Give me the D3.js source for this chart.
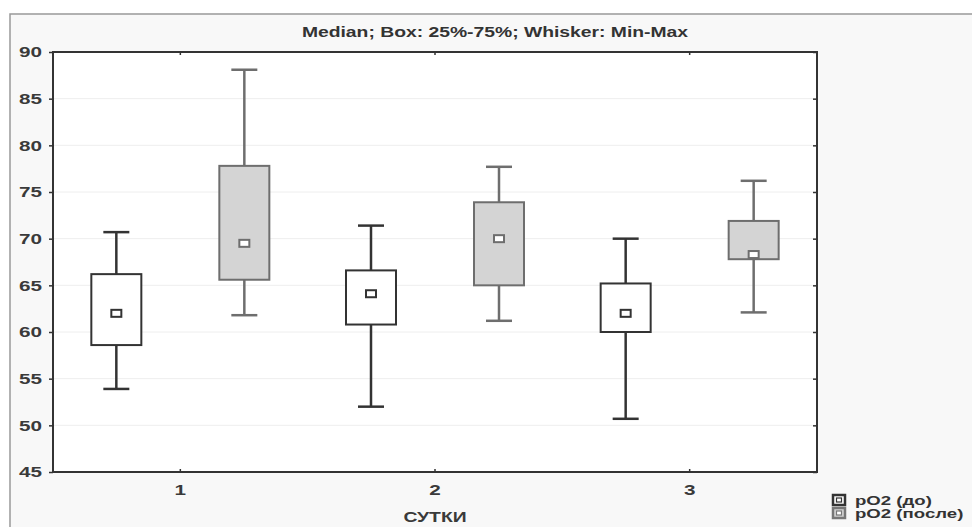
<!DOCTYPE html>
<html>
<head>
<meta charset="utf-8">
<script src="https://cdn.jsdelivr.net/npm/d3@7"></script>
<style>
  body { margin: 0; background: #fff; }
  text { font-family: "Liberation Sans", Arial, sans-serif; }
</style>
</head>
<body>
<div id="chart"></div>
<script>
const days = ['1', '2', '3']
const seriesNames = ['pO2 (до)', 'pO2 (после)']
// [min, q1, median, q3, max] per day
const before = [
  [53.9, 58.6, 62.0, 66.2, 70.7],
  [52.0, 60.8, 64.1, 66.6, 71.4],
  [50.7, 60.0, 62.0, 65.2, 70.0]
]
const after = [
  [61.8, 65.6, 69.5, 77.8, 88.1],
  [61.2, 65.0, 70.0, 73.9, 77.7],
  [62.1, 67.8, 68.3, 71.9, 76.2]
]
const yTicks = [45, 50, 55, 60, 65, 70, 75, 80, 85, 90]

const W = 972, H = 527
const plot = { left: 53, top: 52, right: 817, bottom: 472 }
const stretch = 1.38 // the picture's text is wider than it is tall

let svg = d3.select('#chart').append('svg')
  .attr('width', W).attr('height', H)

// outer frame
svg.append('rect')
  .attr('x', 10).attr('y', 14).attr('width', W + 10).attr('height', H)
  .attr('fill', '#f8f8f8').attr('stroke', '#999').attr('stroke-width', 1.5)

svg.append('rect')
  .attr('x', plot.left).attr('y', plot.top)
  .attr('width', plot.right - plot.left).attr('height', plot.bottom - plot.top)
  .attr('fill', '#fff')

let x = d3.scaleBand().domain(days).range([plot.left, plot.right])
let y = d3.scaleLinear().domain([45, 90]).range([plot.bottom, plot.top])

// grid
svg.append('g').selectAll('line').data(yTicks.slice(1, -1)).join('line')
  .attr('x1', plot.left).attr('x2', plot.right)
  .attr('y1', d => y(d)).attr('y2', d => y(d))
  .attr('stroke', '#eeeeee').attr('stroke-width', 1)

// axes
let leftAxis = svg.append('g')
  .attr('transform', `translate(${plot.left},0)`)
  .call(d3.axisLeft(y).tickValues(yTicks).tickSize(4).tickPadding(4))
leftAxis.select('.domain').remove()
leftAxis.selectAll('line').attr('stroke', '#333').attr('stroke-width', 1.5)
leftAxis.selectAll('text')
  .attr('font-size', 15).attr('font-weight', 'bold').attr('fill', '#3a3a3a')
  .attr('transform', `scale(${stretch},1)`)

let rightAxis = svg.append('g')
  .attr('transform', `translate(${plot.right},0)`)
  .call(d3.axisLeft(y).tickValues(yTicks).tickSize(4).tickFormat(''))
rightAxis.select('.domain').remove()
rightAxis.selectAll('line').attr('stroke', '#333').attr('stroke-width', 1.5)

let bottomAxis = svg.append('g')
  .attr('transform', `translate(0,${plot.bottom})`)
  .call(d3.axisTop(x).tickSize(3).tickPadding(-26))
bottomAxis.select('.domain').remove()
bottomAxis.selectAll('line').attr('stroke', '#333').attr('stroke-width', 1.5)
bottomAxis.selectAll('text')
  .attr('font-size', 15).attr('font-weight', 'bold').attr('fill', '#3a3a3a')
  .attr('transform', `scale(${stretch},1)`)

let topAxis = svg.append('g')
  .attr('transform', `translate(0,${plot.top})`)
  .call(d3.axisBottom(x).tickSize(3).tickFormat(''))
topAxis.select('.domain').remove()
topAxis.selectAll('line').attr('stroke', '#333').attr('stroke-width', 1.5)

// plot border
svg.append('rect')
  .attr('x', plot.left).attr('y', plot.top)
  .attr('width', plot.right - plot.left).attr('height', plot.bottom - plot.top)
  .attr('fill', 'none').attr('stroke', '#333').attr('stroke-width', 2)

// boxes
const offset = 64, boxW = 50, capW = 26
const styles = [
  { data: before, dx: -offset, fill: '#fff', stroke: '#333' },
  { data: after, dx: offset, fill: '#d4d4d4', stroke: '#6e6e6e' }
]

styles.forEach(s => {
  let g = svg.append('g').selectAll('g').data(s.data).join('g')
    .attr('transform', (d, i) => `translate(${x.bandwidth() / 2 + x(days[i]) + s.dx},0)`)

  g.append('line')
    .attr('x1', 0).attr('x2', 0)
    .attr('y1', d => y(d[0])).attr('y2', d => y(d[4]))
    .attr('stroke', s.stroke).attr('stroke-width', 2.5)
  g.append('line')
    .attr('x1', -capW / 2).attr('x2', capW / 2)
    .attr('y1', d => y(d[0])).attr('y2', d => y(d[0]))
    .attr('stroke', s.stroke).attr('stroke-width', 2.5)
  g.append('line')
    .attr('x1', -capW / 2).attr('x2', capW / 2)
    .attr('y1', d => y(d[4])).attr('y2', d => y(d[4]))
    .attr('stroke', s.stroke).attr('stroke-width', 2.5)
  g.append('rect')
    .attr('x', -boxW / 2).attr('width', boxW)
    .attr('y', d => y(d[3])).attr('height', d => y(d[1]) - y(d[3]))
    .attr('fill', s.fill).attr('stroke', s.stroke).attr('stroke-width', 2)
  g.append('rect')
    .attr('x', -5).attr('width', 10)
    .attr('y', d => y(d[2]) - 3.5).attr('height', 7)
    .attr('fill', '#fff').attr('stroke', s.stroke).attr('stroke-width', 2)
})

// title
svg.append('text')
  .attr('transform', `translate(495,37) scale(${stretch},1)`)
  .attr('text-anchor', 'middle')
  .attr('font-size', 14).attr('font-weight', 'bold').attr('fill', '#333')
  .text('Median; Box: 25%-75%; Whisker: Min-Max')

// x axis title
svg.append('text')
  .attr('transform', `translate(${x('2') + x.bandwidth() / 2},522) scale(${stretch},1)`)
  .attr('text-anchor', 'middle')
  .attr('font-size', 14).attr('font-weight', 'bold').attr('fill', '#3a3a3a')
  .text('СУТКИ')

// legend
let legend = svg.append('g').selectAll('g').data(seriesNames).join('g')
  .attr('transform', (d, i) => `translate(833,${500 + i * 13})`)
legend.append('rect')
  .attr('x', 0).attr('y', -5).attr('width', 12).attr('height', 10)
  .attr('fill', (d, i) => i ? '#d4d4d4' : '#fff')
  .attr('stroke', (d, i) => i ? '#777' : '#333').attr('stroke-width', 2.5)
legend.append('rect')
  .attr('x', 3.5).attr('y', -2).attr('width', 5).attr('height', 4)
  .attr('fill', '#fff')
  .attr('stroke', (d, i) => i ? '#777' : '#333').attr('stroke-width', 1.2)
legend.append('text')
  .attr('transform', `translate(22,5) scale(${stretch},1)`)
  .attr('font-size', 13.5).attr('font-weight', 'bold').attr('fill', '#333')
  .text(d => d)
</script>
</body>
</html>
